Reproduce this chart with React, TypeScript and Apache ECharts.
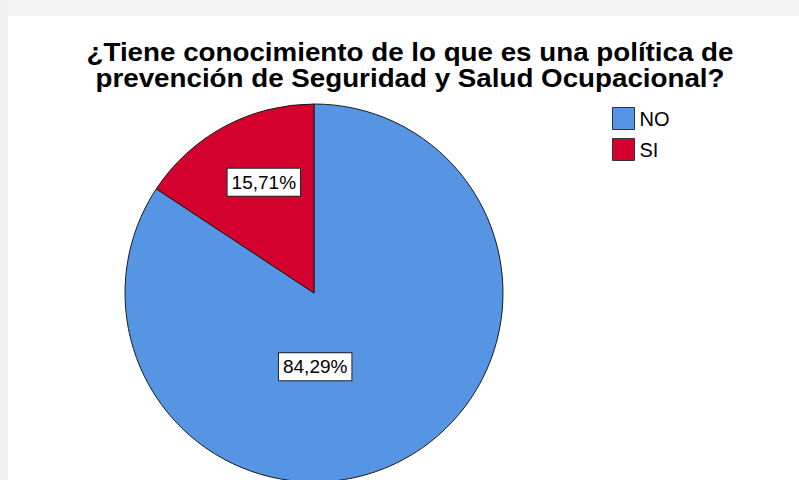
import React, { useEffect, useRef } from "react";
import * as echarts from "echarts";

const categories = ["NO", "SI"];
const percentages = [84.29, 15.71];
const colors = ["#5595e4", "#d4002e"];
const titleLines = [
  "¿Tiene conocimiento de lo que es una política de",
  "prevención de Seguridad y Salud Ocupacional?",
];

// label shifts from the default inside position (px)
const labelShift = [
  [-45, -12],
  [-4, -25],
];

const FONT = "'Liberation Sans', Arial, sans-serif";

export default function App() {
  const ref = useRef<HTMLDivElement>(null);
  useEffect(() => {
    if (!ref.current) return;
    const chart = echarts.init(ref.current, undefined, { renderer: "svg" });
    chart.setOption({
      animation: false,
      backgroundColor: "#ffffff",
      graphic: [
        { type: "rect", left: 0, top: 0, shape: { width: 799, height: 16 }, style: { fill: "#f3f3f3" }, silent: true, z: -10 },
        { type: "rect", left: 0, top: 0, shape: { width: 8, height: 480 }, style: { fill: "#f0f0f0" }, silent: true, z: -10 },
        ...titleLines.map((t, i) => ({
          type: "text",
          x: 410,
          y: 40 + i * 26,
          scaleX: 1.11,
          silent: true,
          style: {
            text: t,
            textAlign: "center",
            textVerticalAlign: "top",
            fontFamily: FONT,
            fontSize: 25,
            fontWeight: "bold",
            fill: "#000",
          },
        })),
      ],
      legend: {
        orient: "vertical",
        left: 612,
        top: 107,
        padding: 0,
        itemGap: 8,
        itemWidth: 22,
        itemHeight: 22,
        icon: "rect",
        selectedMode: false,
        data: categories,
        itemStyle: { borderColor: "#333", borderWidth: 1 },
        textStyle: { fontFamily: FONT, fontSize: 20, color: "#000", padding: [0, 0, 0, 0] },
      },
      series: [
        {
          type: "pie",
          center: [314, 293],
          radius: 189,
          startAngle: 90,
          clockwise: true,
          avoidLabelOverlap: false,
          itemStyle: { borderColor: "#1a1a1a", borderWidth: 1 },
          emphasis: { disabled: true },
          label: {
            show: true,
            position: "inside",
            fontFamily: FONT,
            fontSize: 19,
            color: "#000",
            backgroundColor: "#fff",
            borderColor: "#222",
            borderWidth: 1,
            padding: [5, 4, 3, 4],
            formatter: (p: any) => `${p.value.toFixed(2).replace(".", ",")}%`,
          },
          labelLine: { show: false },
          labelLayout: (params: any) => ({
            dx: labelShift[params.dataIndex][0],
            dy: labelShift[params.dataIndex][1],
          }),
          data: categories.map((c, i) => ({
            name: c,
            value: percentages[i],
            itemStyle: { color: colors[i] },
          })),
        },
      ],
    });
    return () => chart.dispose();
  }, []);
  return (
    <div style={{ position: "absolute", left: 0, top: 0, width: 799, height: 480, overflow: "hidden" }}>
      <div ref={ref} style={{ width: 799, height: 480 }} />
    </div>
  );
}
